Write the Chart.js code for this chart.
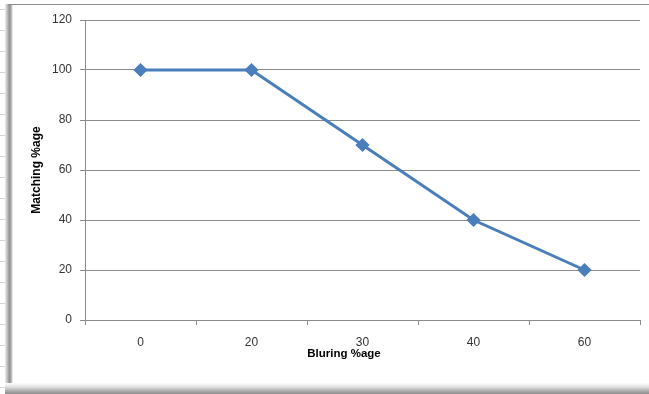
<!DOCTYPE html>
<html>
<head>
<meta charset="utf-8">
<script src="https://cdn.jsdelivr.net/npm/chart.js@4/dist/chart.umd.min.js"></script>
<style>
  html, body { margin: 0; padding: 0; background: #fff; }
  #wrap { position: relative; width: 649px; height: 394px; overflow: hidden; background: #fff; }
  /* worksheet row marks at the far left */
  #rows { position: absolute; left: 0; top: 0; width: 5px; height: 394px;
    background: repeating-linear-gradient(to bottom, transparent 0px, transparent 9px, #d4d4d4 9px, #d4d4d4 10px, transparent 10px, transparent 21px); }
  /* chart frame: top rule, left and bottom shadows */
  #frameTop { position: absolute; left: 8px; top: 4px; width: 641px; height: 1px; background: #8f8f8f; }
  #frameLeft { position: absolute; left: 5px; top: 4px; width: 8px; height: 390px;
    background: linear-gradient(to right, #eeeeee 0%, #b5b5b5 35%, #8c8c8c 60%, #c8c8c8 85%, #ffffff 100%); }
  #frameBottom { position: absolute; left: 5px; top: 383px; width: 644px; height: 11px;
    background: linear-gradient(to bottom, #ffffff 0%, #e2e2e2 35%, #b0b0b0 70%, #8a8a8a 100%); }
  canvas { position: absolute; left: 0; top: 0; }
</style>
</head>
<body>
<div id="wrap">
  <div id="rows"></div>
  <div id="frameLeft"></div>
  <div id="frameBottom"></div>
  <div id="frameTop"></div>
  <canvas id="c" width="649" height="394"></canvas>
</div>
<script>
// Blurring percentage applied to the image (category labels)
const bluringLevels = ['0', '20', '30', '40', '60'];
// Matching percentage measured at each blurring level
const matchingValues = [100, 100, 70, 40, 20];
// Value axis ticks
const yTicks = [0, 20, 40, 60, 80, 100, 120];

const xTitle = 'Bluring %age';
const yTitle = 'Matching %age';

const FONT = '"Liberation Sans", Arial, sans-serif';
const GRID = '#8c8c8c';

// Horizontal axis title, drawn below the category labels
const xTitlePlugin = {
  id: 'xTitle',
  afterDraw(chart) {
    const ctx = chart.ctx;
    ctx.save();
    ctx.font = 'bold 11.5px ' + FONT;
    ctx.fillStyle = '#000';
    ctx.textAlign = 'center';
    ctx.textBaseline = 'middle';
    ctx.fillText(xTitle, 344, 354);
    ctx.restore();
  }
};

new Chart(document.getElementById('c'), {
  type: 'line',
  data: {
    labels: bluringLevels,
    datasets: [{
      data: matchingValues,
      borderColor: '#4a7ebb',
      backgroundColor: '#4a7ebb',
      borderWidth: 3,
      pointStyle: 'rectRot',
      pointRadius: 5,
      pointHoverRadius: 5,
      tension: 0,
      fill: false
    }]
  },
  options: {
    responsive: false,
    animation: false,
    events: [],
    layout: { padding: { left: 0, right: 9, top: 20, bottom: 0 } },
    plugins: {
      legend: { display: false },
      tooltip: { enabled: false },
      title: { display: false }
    },
    scales: {
      x: {
        type: 'category',
        offset: true,
        grid: {
          offset: true,
          drawOnChartArea: false,
          drawTicks: true,
          tickLength: 5,
          color: GRID,
          lineWidth: 1
        },
        border: { display: true, color: GRID, width: 1 },
        ticks: {
          color: '#333',
          font: { family: FONT, size: 12 },
          padding: 10,
          maxRotation: 0
        },
        afterFit(scale) { scale.height = 74; }
      },
      y: {
        min: 0,
        max: 120,
        afterBuildTicks(scale) { scale.ticks = yTicks.map(v => ({ value: v })); },
        grid: {
          color: GRID,
          lineWidth: 1,
          drawTicks: true,
          tickLength: 5
        },
        border: { display: true, color: GRID, width: 1 },
        ticks: {
          color: '#333',
          font: { family: FONT, size: 12 },
          padding: 8
        },
        title: {
          display: true,
          text: yTitle,
          color: '#000',
          font: { family: FONT, size: 12, weight: 'bold' },
          padding: { top: 29, bottom: 0 }
        },
        afterFit(scale) { scale.width = 85; }
      }
    }
  },
  plugins: [xTitlePlugin]
});
</script>
</body>
</html>
